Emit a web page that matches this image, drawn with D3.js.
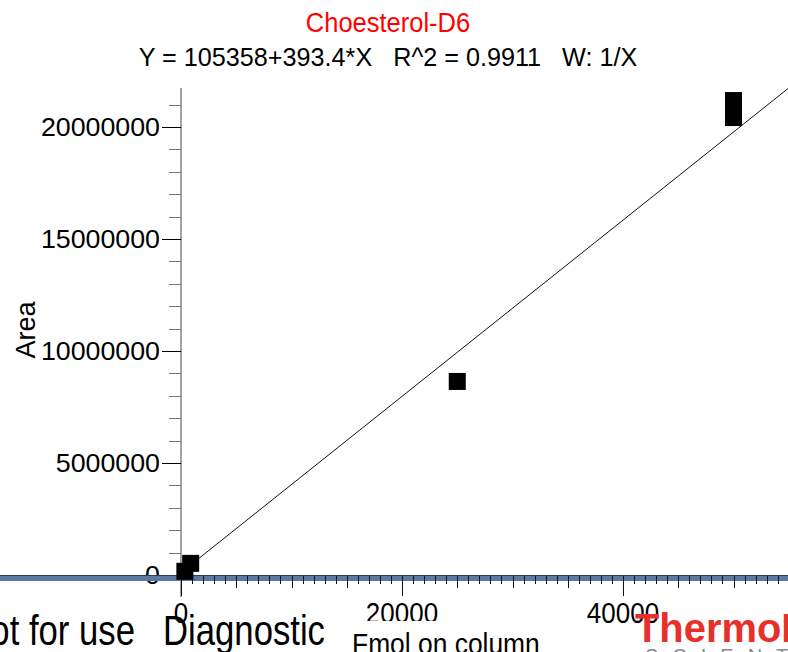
<!DOCTYPE html>
<html>
<head>
<meta charset="utf-8">
<script src="https://cdn.jsdelivr.net/npm/d3@7"></script>
<style>
	body{ margin:0; background:#fff; }
	svg{ display:block; font-family:"Liberation Sans", Arial, sans-serif; }
	text{ white-space:pre; }
</style>
</head>
<body>
<svg id="chart" width="788" height="652"></svg>
<script>
// calibration points (x = fmol on column, y = area)
var stdX = [350, 875, 25000, 50000, 50000, 50000];
var stdY = [165000, 520000, 8640000, 21180000, 20800000, 20420000];

// fitted line, as printed in the header
var fitB = 105358, fitM = 393.4;
var fitX = [0, 56000];

var yTicks = [0, 5000000, 10000000, 15000000, 20000000];
var xTicks = [0, 20000, 40000];

var titleText = "Choesterol-D6";
var eqText = "Y = 105358+393.4*X   R^2 = 0.9911   W: 1/X";

var svg = d3.select("#chart");

var xScale = d3.scaleLinear().domain([0, 54932]).range([181, 788]);
var yScale = d3.scaleLinear().domain([0, 21740000]).range([575, 88]);

function stretchText(g, txt, x, y, size, sx, sy, anchor){
	return g.append("text")
		.attr("xml:space", "preserve")
		.attr("transform", "translate(" + x + "," + y + ") scale(" + sx + "," + sy + ")")
		.attr("text-anchor", anchor || "start")
		.style("font-size", size + "px")
		.text(txt);
}

// header
stretchText(svg, titleText, 388, 32, 25.5, 1, 1.05, "middle").attr("fill", "#ff0000");
stretchText(svg, eqText, 388, 66, 25.2, 1, 1.05, "middle").attr("fill", "#000");

// y axis label
svg.append("text")
	.attr("transform", "translate(35,330) rotate(-90) scale(1,1.05)")
	.attr("text-anchor", "middle")
	.style("font-size", "27px")
	.text("Area");

// y axis
svg.append("line")
	.attr("x1", 181).attr("x2", 181)
	.attr("y1", yScale.range()[1]).attr("y2", 597)
	.attr("stroke", "#666").attr("stroke-width", 1.2);

var yMinor = d3.range(1000000, 21740000, 1000000).filter(function(d){ return d % 5000000 !== 0; });
svg.selectAll(".ymin").data(yMinor).enter().append("line")
	.attr("x1", 169).attr("x2", 181)
	.attr("y1", function(d){ return Math.round(yScale(d)) + 0.5; })
	.attr("y2", function(d){ return Math.round(yScale(d)) + 0.5; })
	.attr("stroke", "#777");

svg.selectAll(".ymaj").data(yTicks.slice(1)).enter().append("line")
	.attr("x1", 162).attr("x2", 181)
	.attr("y1", function(d){ return Math.round(yScale(d)) + 0.5; })
	.attr("y2", function(d){ return Math.round(yScale(d)) + 0.5; })
	.attr("stroke", "#000");

yTicks.forEach(function(d){
	stretchText(svg, d3.format("d")(d), 160, yScale(d) + 9, 26, 1.03, 1.02, "end");
});

// x axis band
svg.append("rect")
	.attr("x", 0).attr("y", 575).attr("width", 788).attr("height", 6)
	.attr("fill", "#5b7aa3");
svg.append("line")
	.attr("x1", 0).attr("x2", 788).attr("y1", 575.5).attr("y2", 575.5)
	.attr("stroke", "#2e3f58");

var xMinor = d3.range(0, 55000, 1000);
svg.selectAll(".xt").data(xMinor).enter().append("line")
	.attr("x1", function(d){ return Math.round(xScale(d)) + 0.5; })
	.attr("x2", function(d){ return Math.round(xScale(d)) + 0.5; })
	.attr("y1", 576)
	.attr("y2", function(d){
		if(d % 20000 === 0) return 596;
		if(d % 5000 === 0) return 588;
		return 584;
	})
	.attr("stroke", "#111");

// fitted line
var fitLine = d3.line()
	.x(function(d){ return xScale(d); })
	.y(function(d){ return yScale(fitB + fitM * d); });
svg.append("path")
	.datum(fitX)
	.attr("d", fitLine)
	.attr("fill", "none")
	.attr("stroke", "#111")
	.attr("stroke-width", 1);

// standards
var sq = 17;
svg.selectAll(".pt").data(d3.range(stdX.length)).enter().append("rect")
	.attr("x", function(i){ return xScale(stdX[i]) - sq / 2; })
	.attr("y", function(i){ return yScale(stdY[i]) - sq / 2; })
	.attr("width", sq).attr("height", sq)
	.attr("fill", "#000");

// bottom strip (text bleeding in from the page)
stretchText(svg, "Not for use", 135, 645, 34.7, 1, 1.25, "end");
stretchText(svg, "Diagnostic", 163, 645, 34.7, 1, 1.25, "start");

xTicks.forEach(function(d){
	stretchText(svg, d3.format("d")(d), xScale(d), 623, 26, 1, 1.12, "middle");
});

svg.append("rect")
	.attr("x", 345).attr("y", 621).attr("width", 200).attr("height", 31)
	.attr("fill", "#fff");
stretchText(svg, "Fmol on column", 352, 654, 26.4, 1, 1.1, "start");

stretchText(svg, "ThermoFisher", 635, 642, 38, 1.05, 1.06, "start")
	.attr("fill", "#e8302a").style("font-weight", "bold");
stretchText(svg, "SCIENTIFIC", 645, 663, 20, 1, 1, "start")
	.attr("fill", "#8a8a8a").style("letter-spacing", "14px");
</script>
</body>
</html>
